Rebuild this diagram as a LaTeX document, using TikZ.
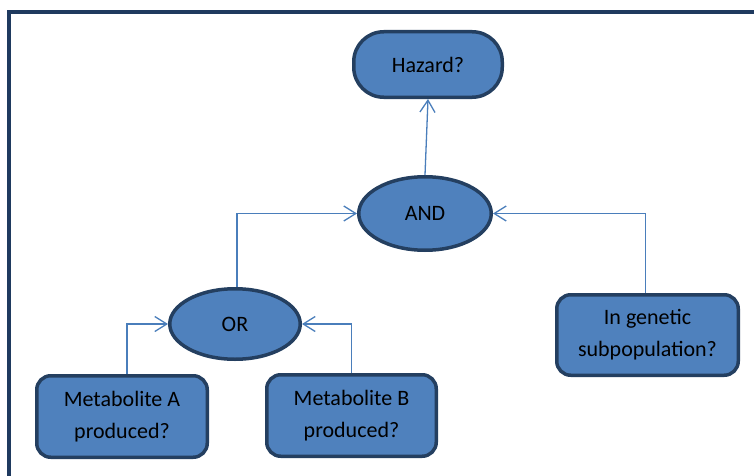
\documentclass[tikz,border=0pt]{standalone}
\usepackage{fontspec}
\setmainfont{Carlito}
\usetikzlibrary{arrows.meta,shapes.geometric}
\definecolor{BoxClr}{HTML}{4F81BD}
\definecolor{EdgeClr}{HTML}{243F60}
\definecolor{LinkClr}{HTML}{4A7EBB}
\definecolor{FrameClr}{HTML}{1F3A5F}

\begin{document}
\begin{tikzpicture}[x=1pt,y=1pt,
  font=\fontsize{22}{32}\selectfont,
  gate/.style={ellipse,draw=EdgeClr,fill=BoxClr,line width=3.5pt,inner sep=0pt},
  question/.style={rectangle,rounded corners=14pt,draw=EdgeClr,fill=BoxClr,
    line width=3.5pt,align=center,inner sep=0pt},
  link/.style={draw=LinkClr,line width=1.3pt,
    -{Straight Barb[length=12pt,width=15pt,line width=1.3pt]}}]
\useasboundingbox (0,0) rectangle (754,475);
\clip (0,0) rectangle (754,475);

% outer frame, cut off at the right and bottom
\draw[FrameClr,line width=4pt] (9,-10) -- (9,463) -- (770,463);

% top event and gates
\node[question,rounded corners=30pt,minimum width=148.5pt,minimum height=65.5pt]
  (hazard) at (428,410.5) {Hazard?};
\node[gate,minimum width=132.5pt,minimum height=73.5pt] (and) at (425,261.5) {AND};
\node[gate,minimum width=130.5pt,minimum height=70.5pt] (or) at (235,151) {OR};

% basic events
\node[question,minimum width=170.5pt,minimum height=81.5pt]
  (metA) at (122,58.5) {Metabolite A\\produced?};
\node[question,minimum width=169.5pt,minimum height=81.5pt]
  (metB) at (351.5,59.5) {Metabolite B\\produced?};
\node[question,minimum width=181.5pt,minimum height=80.5pt]
  (gen) at (647.5,140) {In genetic\\subpopulation?};

% connectors
\draw[link] (and.north) -- (hazard.south);
\draw[link] ([xshift=2pt]or.north) |- (and.west);
\draw[link] ([xshift=-2pt]gen.north) |- (and.east);
\draw[link] ([xshift=5pt]metA.north) |- (or.west);
\draw[link] (metB.north) |- (or.east);

\end{tikzpicture}
\end{document}
